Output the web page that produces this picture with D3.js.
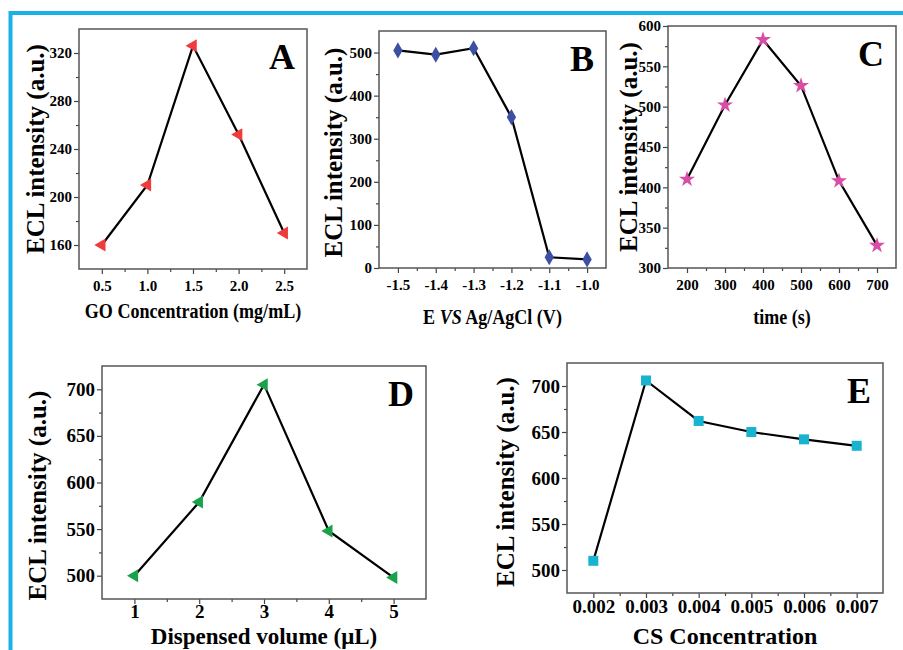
<!DOCTYPE html>
<html>
<head>
<meta charset="utf-8">
<script src="https://cdn.jsdelivr.net/npm/d3@7"></script>
<style>
    body { margin: 0; background: #fff; }
    svg { display: block; }
</style>
</head>
<body>
<div id="chart"></div>
<script>
// A: GO concentration
const goConc = [0.5, 1.0, 1.5, 2.0, 2.5];
const goEcl = [160, 210, 326, 252, 170];
const goXTicks = [0.5, 1.0, 1.5, 2.0, 2.5];
const goYTicks = [160, 200, 240, 280, 320];

// B: applied potential
const potential = [-1.5, -1.4, -1.3, -1.2, -1.1, -1.0];
const potentialEcl = [505, 495, 510, 350, 25, 20];
const potXTicks = [-1.5, -1.4, -1.3, -1.2, -1.1, -1.0];
const potYTicks = [0, 100, 200, 300, 400, 500];

// C: time
const timeS = [200, 300, 400, 500, 600, 700];
const timeEcl = [410, 502, 583, 526, 408, 328];
const timeXTicks = [200, 300, 400, 500, 600, 700];
const timeYTicks = [300, 350, 400, 450, 500, 550, 600];

// D: dispensed volume
const volume = [1, 2, 3, 4, 5];
const volumeEcl = [500, 579, 705, 548, 498];
const volXTicks = [1, 2, 3, 4, 5];
const volYTicks = [500, 550, 600, 650, 700];

// E: CS concentration
const csConc = [0.002, 0.003, 0.004, 0.005, 0.006, 0.007];
const csEcl = [510, 706, 662, 650, 642, 635];
const csXTicks = [0.002, 0.003, 0.004, 0.005, 0.006, 0.007];
const csYTicks = [500, 550, 600, 650, 700];

const FONT = '"Liberation Serif", "Times New Roman", "DejaVu Serif", serif';

const panels = [
    { id: 'A', xs: goConc, ys: goEcl, xTicks: goXTicks, yTicks: goYTicks,
      box: [79, 29, 307, 269], xDom: [0.25, 2.75], yDom: [140, 340], fmt: '.1f',
      xLabel: 'GO Concentration (mg/mL)', shape: 'left', color: '#ef3b3b',
      small: true, xLabDy: 49, xLabFs: 22, tickPad: 6, yLabDx: 35, yLabShift: 0 },
    { id: 'B', xs: potential, ys: potentialEcl, xTicks: potXTicks, yTicks: potYTicks,
      box: [379, 31, 606, 268], xDom: [-1.55, -0.95], yDom: [0, 550], fmt: '.1f',
      xLabel: null, shape: 'diamond', color: '#3d4fa3',
      small: true, xLabDy: 56, xLabFs: 22, tickPad: 6, yLabDx: 37, yLabShift: 3 },
    { id: 'C', xs: timeS, ys: timeEcl, xTicks: timeXTicks, yTicks: timeYTicks,
      box: [668, 26, 896, 268], xDom: [150, 750], yDom: [300, 600], fmt: 'd',
      xLabel: 'time (s)', shape: 'star', color: '#d84ea6',
      small: true, xLabDy: 56, xLabFs: 22, tickPad: 6, yLabDx: 31, yLabShift: 0 },
    { id: 'D', xs: volume, ys: volumeEcl, xTicks: volXTicks, yTicks: volYTicks,
      box: [102, 366, 426, 599], xDom: [0.5, 5.5], yDom: [475, 725], fmt: 'd',
      xLabel: 'Dispensed volume (\u03bcL)', shape: 'left', color: '#19a24b',
      small: false, xLabDy: 45, xLabFs: 23, tickPad: 1, yLabDx: 56, yLabShift: 13 },
    { id: 'E', xs: csConc, ys: csEcl, xTicks: csXTicks, yTicks: csYTicks,
      box: [567, 363, 883, 593], xDom: [0.0015, 0.0075], yDom: [475, 725], fmt: '.3f',
      xLabel: 'CS Concentration', shape: 'square', color: '#18b3d0',
      small: false, xLabDy: 51, xLabFs: 24, tickPad: 2, yLabDx: 53, yLabShift: 4 },
];

const svg = d3.select('#chart').append('svg')
    .attr('width', 903).attr('height', 650);

svg.append('rect').attr('width', 903).attr('height', 650).attr('fill', '#fff');

// cyan frame on top/left
svg.append('path')
    .attr('d', 'M10.5,650V13H903')
    .attr('fill', 'none')
    .attr('stroke', '#1bb1e6')
    .attr('stroke-width', 4);

const symbols = {
    left: d3.symbol().type(d3.symbolTriangle).size(72),
    diamond: d3.symbol().type(d3.symbolDiamond).size(75),
    star: d3.symbol().type(d3.symbolStar).size(80),
    square: d3.symbol().type(d3.symbolSquare).size(100),
};

function minorTicks(ticks, dom) {
    const step = ticks[1] - ticks[0];
    return d3.range(ticks[0] - step / 2, dom[1] + step * 1e-6, step)
        .filter((v) => v > dom[0] + step * 1e-6 && v < dom[1] - step * 1e-6);
}

function styleAxis(g, fs) {
    g.attr('font-family', null).attr('font-size', null);
    g.select('.domain').remove();
    g.selectAll('.tick line').attr('stroke', '#444').attr('stroke-width', 1.2);
    g.selectAll('.tick text')
        .style('font-family', FONT)
        .style('font-weight', 'bold')
        .style('font-size', fs + 'px')
        .attr('fill', '#000');
}

function label(g, size) {
    return g.append('text')
        .style('font-family', FONT)
        .style('font-weight', 'bold')
        .style('font-size', size + 'px')
        .attr('fill', '#000');
}

panels.forEach((p) => {
    const [l, t, r, b] = p.box;
    const x = d3.scaleLinear().domain(p.xDom).range([l, r]);
    const y = d3.scaleLinear().domain(p.yDom).range([b, t]);
    const fs = p.small ? 15 : 19;
    const fmt = d3.format(p.fmt);
    const g = svg.append('g');

    // minor ticks
    g.append('g')
        .attr('transform', `translate(0,${b})`)
        .call(d3.axisBottom(x).tickValues(minorTicks(p.xTicks, p.xDom)).tickSize(3).tickFormat(''))
        .call((a) => styleAxis(a, fs));
    g.append('g')
        .attr('transform', `translate(${l},0)`)
        .call(d3.axisLeft(y).tickValues(minorTicks(p.yTicks, p.yDom)).tickSize(3).tickFormat(''))
        .call((a) => styleAxis(a, fs));

    // major ticks
    g.append('g')
        .attr('transform', `translate(0,${b})`)
        .call(d3.axisBottom(x).tickValues(p.xTicks).tickSize(5)
            .tickPadding(p.tickPad)
            .tickFormat((d) => fmt(d).replace('\u2212', '-')))
        .call((a) => styleAxis(a, fs));
    g.append('g')
        .attr('transform', `translate(${l},0)`)
        .call(d3.axisLeft(y).tickValues(p.yTicks).tickSize(5).tickPadding(2)
            .tickFormat(d3.format('d')))
        .call((a) => styleAxis(a, fs));

    // frame
    g.append('rect')
        .attr('x', l).attr('y', t)
        .attr('width', r - l).attr('height', b - t)
        .attr('fill', 'none')
        .attr('stroke', '#555')
        .attr('stroke-width', 1.5);

    const pts = p.xs.map((v, i) => [v, p.ys[i]]);

    g.append('path')
        .datum(pts)
        .attr('fill', 'none')
        .attr('stroke', '#000')
        .attr('stroke-width', 2.2)
        .attr('d', d3.line().x((d) => x(d[0])).y((d) => y(d[1])));

    g.selectAll('.mark')
        .data(pts)
        .join('path')
        .attr('class', 'mark')
        .attr('transform', (d) => `translate(${x(d[0])},${y(d[1])})` + (p.shape === 'left' ? ' rotate(-90)' : ''))
        .attr('d', symbols[p.shape]())
        .attr('fill', p.color);

    // x label (top row is drawn condensed, as in the source figure)
    const xl = label(g, p.xLabFs)
        .attr('transform', `translate(${(l + r) / 2},${b + p.xLabDy})` + (p.small ? ' scale(0.82,1)' : ''))
        .attr('text-anchor', 'middle');
    if (p.xLabel) {
        xl.text(p.xLabel);
    } else {
        xl.append('tspan').text('E ');
        xl.append('tspan').style('font-style', 'italic').text('VS');
        xl.append('tspan').text(' Ag/AgCl (V)');
    }

    // y label
    label(g, 25)
        .attr('transform', `translate(${l - p.yLabDx},${(t + b) / 2 + p.yLabShift}) rotate(-90)`)
        .attr('text-anchor', 'middle')
        .text('ECL intensity (a.u.)');

    // panel letter
    label(g, 36)
        .attr('x', r - 12)
        .attr('y', t + 40)
        .attr('text-anchor', 'end')
        .text(p.id);
});
</script>
</body>
</html>
